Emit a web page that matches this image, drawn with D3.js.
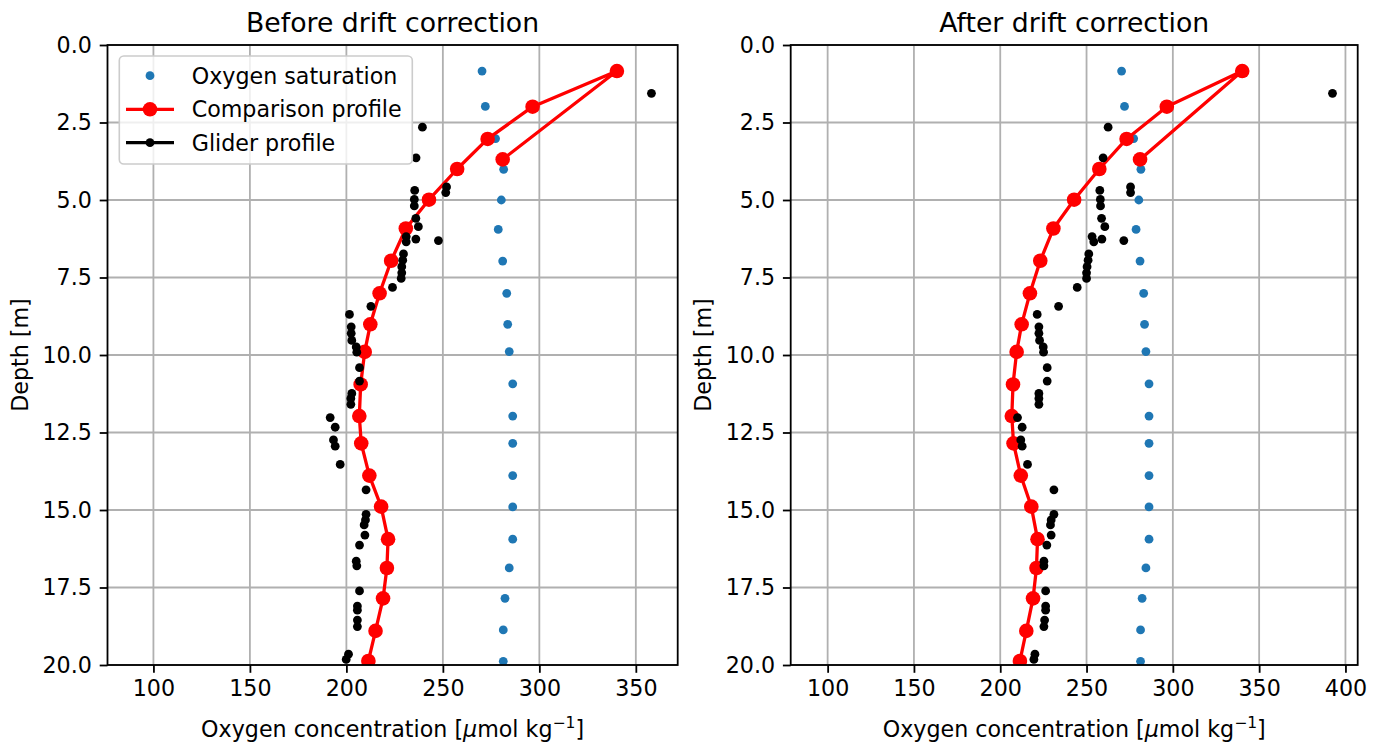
<!DOCTYPE html>
<html>
<head>
<meta charset="utf-8">
<script src="https://cdn.jsdelivr.net/npm/d3@7"></script>
<style>
  body { margin: 0; background: #fff; }
  svg text { font-family: "DejaVu Sans", sans-serif; fill: #000; }
</style>
</head>
<body>
<script>
// oxygen saturation (same in both panels)
const satDepth = [0.84, 1.98, 3.02, 4.01, 5.0, 5.95, 6.97, 8.01, 9.01, 9.89,
  10.93, 11.97, 12.85, 13.89, 14.9, 15.94, 16.87, 17.85, 18.87, 19.88];
const satValue = [270.3, 272.0, 277.3, 281.5, 280.3, 278.7, 281.0, 283.1, 283.6, 284.4,
  286.2, 286.2, 286.2, 286.2, 286.2, 286.2, 284.4, 282.2, 281.3, 281.3];

// comparison profile, in drawing order
const compDepth = [3.69, 0.84, 1.99, 3.03, 4.0, 4.99, 5.92, 6.96, 8.01, 9.01, 9.9,
  10.95, 11.97, 12.85, 13.89, 14.89, 15.94, 16.87, 17.85, 18.9, 19.87];
const compValue = [281.0, 340.2, 296.5, 273.2, 257.4, 242.8, 230.8, 223.2, 217.2, 212.4, 209.5,
  207.4, 206.7, 207.7, 211.9, 218.0, 221.6, 221.0, 219.0, 215.1, 211.4];

// glider profile
const gliderDepth = [1.56, 2.65, 3.64, 4.69, 4.58, 4.76, 4.98, 5.19, 5.59, 5.86,
  6.18, 6.26, 6.31, 6.35, 6.74, 6.94, 7.15, 7.35, 7.53, 7.82,
  8.43, 8.69, 9.09, 9.30, 9.53, 9.74, 9.91, 10.41, 10.84, 11.24,
  11.40, 11.59, 12.02, 12.33, 12.74, 12.94, 13.53, 14.35, 15.14, 15.32,
  15.48, 15.81, 16.13, 16.65, 16.80, 17.61, 18.10, 18.23, 18.55, 18.76,
  19.65, 19.82];
const gliderBefore = [358.1, 239.4, 236.1, 235.4, 251.9, 251.5, 235.2, 235.2, 236.0, 237.3,
  231.0, 236.0, 247.7, 231.0, 229.6, 229.2, 228.7, 228.7, 228.4, 223.9,
  212.7, 201.6, 202.5, 202.5, 202.8, 205.1, 205.4, 206.8, 206.8, 202.8,
  202.3, 202.3, 191.6, 194.2, 193.3, 194.2, 196.8, 210.2, 210.2, 209.9,
  209.2, 209.6, 206.8, 205.1, 205.4, 206.8, 205.7, 205.7, 205.7, 205.7,
  201.1, 199.9];
const gliderAfter = [392.5, 262.5, 259.6, 257.7, 275.5, 275.5, 258.0, 258.1, 258.7, 260.6,
  253.2, 258.9, 271.6, 254.2, 251.3, 250.9, 250.3, 250.0, 250.0, 244.6,
  233.8, 221.4, 222.4, 222.4, 222.8, 224.9, 225.1, 227.2, 227.2, 222.4,
  222.4, 222.4, 210.0, 212.7, 211.9, 212.7, 215.8, 231.1, 231.1, 229.5,
  229.1, 229.5, 227.0, 225.3, 225.3, 226.3, 226.3, 226.3, 225.7, 225.3,
  220.1, 219.5];

const depthTicks = [0, 2.5, 5, 7.5, 10, 12.5, 15, 17.5, 20];
const xTicksBefore = [100, 150, 200, 250, 300, 350];
const xTicksAfter = [100, 150, 200, 250, 300, 350, 400];

const titles = ["Before drift correction", "After drift correction"];
const legendLabels = ["Oxygen saturation", "Comparison profile", "Glider profile"];

const W = 1382, H = 744;
const plotTop = 45, plotBottom = 665;
const fs = 22.2;
const panels = [
  { title: titles[0], x0: 107.5, x1: 677.7, domain: [76.2, 371.7], ticks: xTicksBefore, glider: gliderBefore, legend: true },
  { title: titles[1], x0: 790.7, x1: 1357.7, domain: [78.6, 407.1], ticks: xTicksAfter, glider: gliderAfter, legend: false }
];

const svg = d3.select("body").append("svg")
  .attr("width", W)
  .attr("height", H);

const blue = "#1f77b4";

panels.forEach((p, k) => {
  const x = d3.scaleLinear().domain(p.domain).range([p.x0, p.x1]);
  const y = d3.scaleLinear().domain([0, 20]).range([plotTop, plotBottom]);
  const g = svg.append("g");

  // grid
  g.selectAll(".gx").data(p.ticks).enter().append("line")
    .attr("x1", d => x(d)).attr("x2", d => x(d))
    .attr("y1", plotTop).attr("y2", plotBottom)
    .attr("stroke", "#b0b0b0").attr("stroke-width", 1.8);
  g.selectAll(".gy").data(depthTicks).enter().append("line")
    .attr("x1", p.x0).attr("x2", p.x1)
    .attr("y1", d => y(d)).attr("y2", d => y(d))
    .attr("stroke", "#b0b0b0").attr("stroke-width", 1.8);

  // clip
  const clipId = "clip" + k;
  svg.append("clipPath").attr("id", clipId).append("rect")
    .attr("x", p.x0).attr("y", plotTop).attr("width", p.x1 - p.x0).attr("height", plotBottom - plotTop);
  const plot = g.append("g").attr("clip-path", `url(#${clipId})`);

  // oxygen saturation
  plot.selectAll(".sat").data(satDepth).enter().append("circle")
    .attr("cx", (d, i) => x(satValue[i]))
    .attr("cy", d => y(d))
    .attr("r", 4.4)
    .attr("fill", blue);

  // comparison profile
  const line = d3.line()
    .x((d, i) => x(compValue[i]))
    .y(d => y(d));
  plot.append("path")
    .datum(compDepth)
    .attr("d", line)
    .attr("fill", "none")
    .attr("stroke", "red")
    .attr("stroke-width", 3.3)
    .attr("stroke-linejoin", "round");
  plot.selectAll(".comp").data(compDepth).enter().append("circle")
    .attr("cx", (d, i) => x(compValue[i]))
    .attr("cy", d => y(d))
    .attr("r", 7.3)
    .attr("fill", "red");

  // glider profile
  plot.selectAll(".gl").data(gliderDepth).enter().append("circle")
    .attr("cx", (d, i) => x(p.glider[i]))
    .attr("cy", d => y(d))
    .attr("r", 4.4)
    .attr("fill", "#000");

  // axes
  const xAxis = d3.axisBottom(x).tickValues(p.ticks).tickSize(7.8).tickPadding(7.8)
    .tickFormat(d3.format("d"));
  const xg = g.append("g").attr("transform", `translate(0,${plotBottom})`).call(xAxis);
  const yAxis = d3.axisLeft(y).tickValues(depthTicks).tickSize(7.8).tickPadding(7.8)
    .tickFormat(d3.format(".1f"));
  const yg = g.append("g").attr("transform", `translate(${p.x0},0)`).call(yAxis);
  [xg, yg].forEach(a => {
    a.select(".domain").remove();
    a.selectAll(".tick line").attr("stroke", "#000").attr("stroke-width", 1.8);
    a.selectAll(".tick text").attr("font-size", fs).attr("font-family", "DejaVu Sans");
  });

  // frame
  g.append("rect")
    .attr("x", p.x0).attr("y", plotTop)
    .attr("width", p.x1 - p.x0).attr("height", plotBottom - plotTop)
    .attr("fill", "none").attr("stroke", "#000").attr("stroke-width", 1.8);

  // title
  g.append("text")
    .attr("x", (p.x0 + p.x1) / 2).attr("y", 32)
    .attr("text-anchor", "middle")
    .attr("font-size", 26.7)
    .text(p.title);

  // x label
  const xl = g.append("text")
    .attr("x", (p.x0 + p.x1) / 2).attr("y", 737)
    .attr("text-anchor", "middle")
    .attr("font-size", fs);
  xl.append("tspan").text("Oxygen concentration [");
  xl.append("tspan").attr("font-style", "italic").text("\u03bc");
  xl.append("tspan").text("mol kg");
  xl.append("tspan").attr("font-size", fs * 0.7).attr("dy", -9).text("\u22121");
  xl.append("tspan").attr("dy", 9).text("]");

  // y label
  g.append("text")
    .attr("transform", `translate(${p.x0 - 87},${(plotTop + plotBottom) / 2}) rotate(-90)`)
    .attr("text-anchor", "middle")
    .attr("dy", "0.35em")
    .attr("font-size", fs)
    .text("Depth [m]");

  if (p.legend) {
    const lg = g.append("g");
    lg.append("rect")
      .attr("x", 119.3).attr("y", 56)
      .attr("width", 293).attr("height", 108)
      .attr("rx", 4.5)
      .attr("fill", "#fff").attr("fill-opacity", 0.8)
      .attr("stroke", "#cccccc").attr("stroke-width", 1.6);
    const rows = [75.7, 109.3, 142.7];
    lg.append("circle").attr("cx", 150).attr("cy", rows[0]).attr("r", 4.4).attr("fill", blue);
    lg.append("line").attr("x1", 126).attr("x2", 174).attr("y1", rows[1]).attr("y2", rows[1])
      .attr("stroke", "red").attr("stroke-width", 3.3);
    lg.append("circle").attr("cx", 150).attr("cy", rows[1]).attr("r", 7.3).attr("fill", "red");
    lg.append("line").attr("x1", 126).attr("x2", 174).attr("y1", rows[2]).attr("y2", rows[2])
      .attr("stroke", "#000").attr("stroke-width", 3.3);
    lg.append("circle").attr("cx", 150).attr("cy", rows[2]).attr("r", 4.4).attr("fill", "#000");
    lg.selectAll(".lt").data(legendLabels).enter().append("text")
      .attr("x", 191.7)
      .attr("y", (d, i) => rows[i])
      .attr("dy", "0.36em")
      .attr("font-size", fs)
      .text(d => d);
  }
});
</script>
</body>
</html>
